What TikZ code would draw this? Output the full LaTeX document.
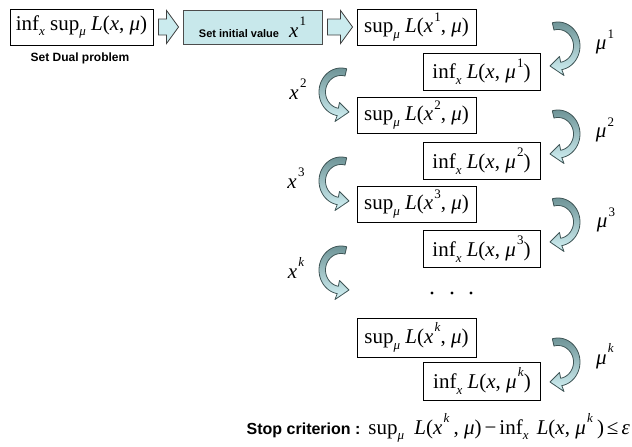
\documentclass[tikz,border=0pt]{standalone}
\usepackage{fontspec}
\setmainfont{Liberation Serif}
\newfontfamily\sansb{Liberation Sans}
\usetikzlibrary{calc}
\definecolor{boxcyan}{HTML}{C8E8EB}
\definecolor{arrfill}{HTML}{CBEBEE}
\definecolor{arrdark}{HTML}{6E9497}
\definecolor{arrlight}{HTML}{D4F3F6}
\definecolor{arrline}{HTML}{3E5455}
\newcommand{\mysub}[1]{\raisebox{-0.27em}{\fontsize{13}{13}\selectfont\itshape #1}}
\newcommand{\mysup}[1]{\hspace{1.2pt}\raisebox{0.56em}{\fontsize{13}{13}\selectfont #1}}
\newcommand{\blockarrow}[2]{%
  \path[blockarr] let \p1=($(#1.east)+(5,0)$), \p2=($(#2.west)+(-4,0)$) in
    (\x1,\y1+8pt) -- (\x2-12pt,\y1+8pt) -- (\x2-12pt,\y1+16.5pt) -- (\x2,\y1)
    -- (\x2-12pt,\y1-16.5pt) -- (\x2-12pt,\y1-8pt) -- (\x1,\y1-8pt) -- cycle;}
\tikzset{
  mbox/.style={draw=black, line width=0.9pt, font=\fontsize{21}{24}\selectfont, inner sep=0pt, minimum height=36pt},
  supbox/.style={mbox, minimum width=119pt},
  infbox/.style={mbox, minimum width=117pt, minimum height=37pt},
  blockarr/.style={draw=black!75, line width=0.8pt, fill=arrfill, line join=miter},
  lbl/.style={font=\fontsize{21}{24}\selectfont, inner sep=0pt},
  sanslbl/.style={font=\sansb\bfseries\fontsize{12}{14}\selectfont, inner sep=0pt},
  bendarrow/.pic={
    \path[draw=arrline, line width=0.8pt, top color=arrdark, bottom color=arrlight, line join=round]
      plot[domain=-105:80, samples=40, variable=\t] ({22*cos(\t)},{24*sin(\t)})
      -- (6,29.5) -- (-8,20) -- (1.5,10.5)
      -- plot[domain=80:-105, samples=40, variable=\t] ({15.5*cos(\t)},{16.5*sin(\t)}) -- cycle;
  }
}
\begin{document}
\begin{tikzpicture}[x=1pt,y=-1pt]
\useasboundingbox (0,0) rectangle (632,447);
% top row
\node[mbox, minimum width=143pt] (A) at (81.5,27) {inf\mysub{x} sup\mysub{μ} \textit{L}(\textit{x}, \textit{μ})};
\node[sanslbl] (dual) at (80,58) {Set Dual problem};
\node[draw=black!70, line width=0.9pt, fill=boxcyan, minimum width=139pt, minimum height=34pt, inner sep=0pt, font=\fontsize{21}{24}\selectfont] (B) at (252.5,27)
  {{\sansb\bfseries\fontsize{11}{13}\selectfont Set initial value}\hspace{10pt}\textit{x}\mysup{1}};
\node[supbox] (C) at (416.5,27) {sup\mysub{μ} \textit{L}(\textit{x}\mysup{1}, \textit{μ})};
\blockarrow{A}{B}
\blockarrow{B}{C}
% iterations
\node[infbox] (I1) at (481.5,71.5) {inf\mysub{x} \textit{L}(\textit{x}, \textit{μ}\mysup{1})};
\node[supbox] (S2) at (416.5,115) {sup\mysub{μ} \textit{L}(\textit{x}\mysup{2}, \textit{μ})};
\node[infbox] (I2) at (481.5,161) {inf\mysub{x} \textit{L}(\textit{x}, \textit{μ}\mysup{2})};
\node[supbox] (S3) at (416.5,204) {sup\mysub{μ} \textit{L}(\textit{x}\mysup{3}, \textit{μ})};
\node[infbox] (I3) at (481.5,249) {inf\mysub{x} \textit{L}(\textit{x}, \textit{μ}\mysup{3})};
\coordinate (dots) at (452,293);
\foreach \dx in {-20,0,19} \fill ($(dots)+(\dx,0)$) circle (1.6);
\node[supbox, minimum height=39pt] (Sk) at (416.5,337.5) {sup\mysub{μ} \textit{L}(\textit{x}\mysup{\textit{k}}, \textit{μ})};
\node[infbox, minimum height=38pt] (Ik) at (482,381) {inf\mysub{x} \textit{L}(\textit{x}, \textit{μ}\mysup{\textit{k}})};
% curved arrows
\pic at (558,46) {bendarrow};
\pic at (558,134) {bendarrow};
\pic at (558,222) {bendarrow};
\pic at (558,362) {bendarrow};
\pic[xscale=-1] at (341,92) {bendarrow};
\pic[xscale=-1] at (341,181) {bendarrow};
\pic[xscale=-1] at (341,270) {bendarrow};
% labels
\node[lbl] (m1) at (605,42) {\textit{μ}\mysup{1}};
\node[lbl] (m2) at (605,130) {\textit{μ}\mysup{2}};
\node[lbl] (m3) at (606,220) {\textit{μ}\mysup{3}};
\node[lbl] (mk) at (605,356) {\textit{μ}\mysup{\textit{k}}};
\node[lbl] (x2) at (298,89) {\textit{x}\mysup{2}};
\node[lbl] (x3) at (296,178) {\textit{x}\mysup{3}};
\node[lbl] (xk) at (296,268) {\textit{x}\mysup{\textit{k}}};
% stop criterion
\node[lbl, anchor=east] (stop) at (630,428)
  {{\sansb\bfseries\fontsize{16}{18}\selectfont Stop criterion :}\hspace{1pt} sup\mysub{μ}\hspace{5pt} \textit{L}(\textit{x}\mysup{\textit{k}}\hspace{4pt}, \textit{μ})\hspace{3pt}−\hspace{3pt}inf\mysub{x}\hspace{3pt} \textit{L}(\textit{x}, \textit{μ}\mysup{\textit{k}}\hspace{4pt})\hspace{3pt}≤\hspace{3pt}\textit{ε}};
\end{tikzpicture}
\end{document}
